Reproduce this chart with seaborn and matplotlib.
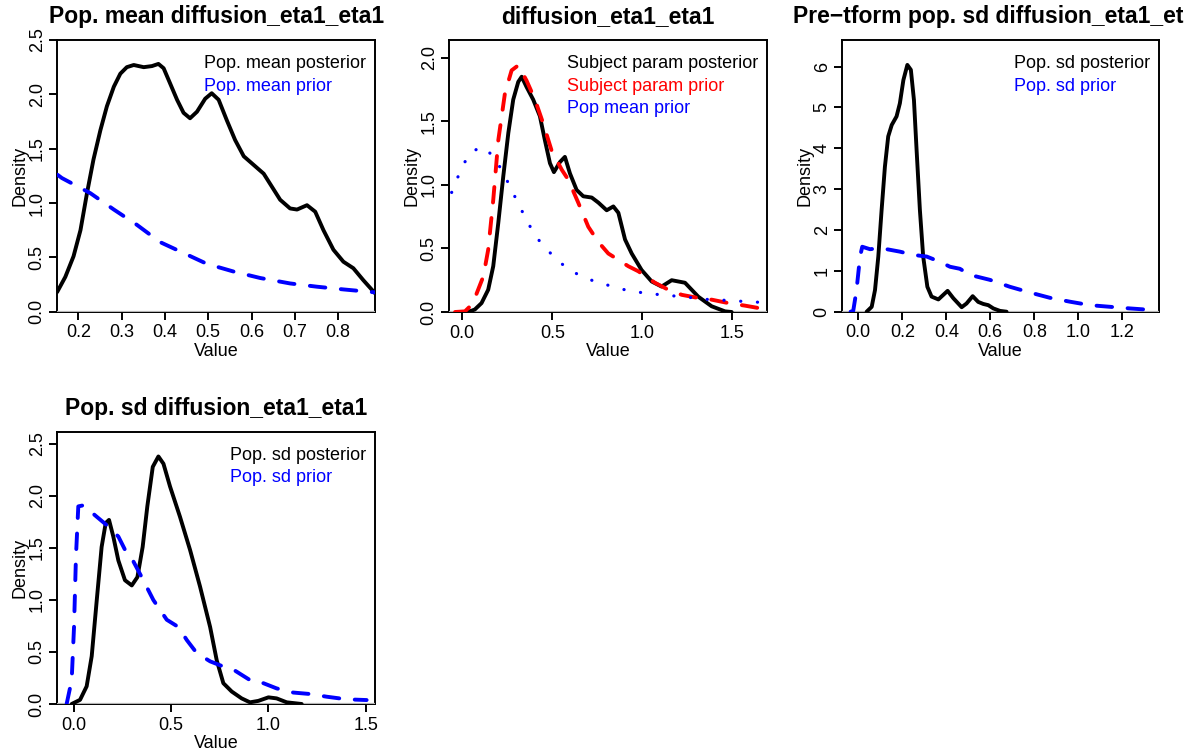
import matplotlib
matplotlib.use("Agg")
import matplotlib.pyplot as plt
import seaborn as sns
from matplotlib.lines import Line2D
from matplotlib.transforms import Bbox, TransformedBbox

# ---- Pop. mean diffusion_eta1_eta1 ----
pm_post_x = [0.151, 0.170, 0.189, 0.205, 0.220, 0.235, 0.251, 0.266, 0.282, 0.297,
             0.312, 0.328, 0.351, 0.370, 0.385, 0.397, 0.412, 0.428, 0.443, 0.458,
             0.474, 0.493, 0.508, 0.524, 0.543, 0.562, 0.582, 0.605, 0.628, 0.647,
             0.666, 0.689, 0.705, 0.728, 0.747, 0.766, 0.789, 0.812, 0.835, 0.858,
             0.885]
pm_post_y = [0.18, 0.32, 0.51, 0.75, 1.09, 1.40, 1.67, 1.89, 2.07, 2.19,
             2.25, 2.27, 2.25, 2.26, 2.28, 2.24, 2.10, 1.95, 1.83, 1.78,
             1.84, 1.96, 2.01, 1.95, 1.76, 1.58, 1.43, 1.35, 1.27, 1.15,
             1.03, 0.95, 0.94, 0.98, 0.92, 0.75, 0.57, 0.46, 0.40, 0.29,
             0.17]
pm_prior_x = [0.152, 0.162, 0.228, 0.282, 0.335, 0.389, 0.443, 0.497, 0.558, 0.620,
              0.689, 0.751, 0.812, 0.885]
pm_prior_y = [1.26, 1.23, 1.09, 0.94, 0.80, 0.64, 0.54, 0.44, 0.37, 0.31,
              0.26, 0.23, 0.205, 0.178]

# ---- diffusion_eta1_eta1 (subject level) ----
sp_post_x = [0.024, 0.052, 0.070, 0.107, 0.144, 0.172, 0.200, 0.228, 0.256, 0.283,
             0.311, 0.330, 0.357, 0.394, 0.431, 0.459, 0.487, 0.509, 0.543, 0.570,
             0.598, 0.635, 0.672, 0.719, 0.756, 0.802, 0.839, 0.867, 0.904, 0.941,
             0.996, 1.052, 1.107, 1.163, 1.237, 1.311, 1.385, 1.459, 1.496]
sp_post_y = [0.00, 0.01, 0.02, 0.07, 0.175, 0.36, 0.70, 1.07, 1.41, 1.67,
             1.81, 1.85, 1.77, 1.67, 1.54, 1.35, 1.17, 1.10, 1.18, 1.22,
             1.09, 0.96, 0.91, 0.90, 0.86, 0.80, 0.83, 0.78, 0.57, 0.46,
             0.33, 0.24, 0.20, 0.25, 0.23, 0.12, 0.045, 0.005, 0.0]
sp_prior_x = [-0.040, 0.015, 0.040, 0.070, 0.117, 0.144, 0.172, 0.200, 0.237, 0.274,
              0.311, 0.357, 0.404, 0.450, 0.496, 0.552, 0.589, 0.644, 0.700, 0.756,
              0.811, 0.867, 0.922, 0.978, 1.070, 1.144, 1.219, 1.293, 1.385, 1.478,
              1.570, 1.690]
sp_prior_y = [0.00, 0.005, 0.04, 0.11, 0.28, 0.49, 0.88, 1.35, 1.72, 1.90,
              1.94, 1.82, 1.67, 1.48, 1.27, 1.12, 1.04, 0.86, 0.67, 0.55,
              0.46, 0.41, 0.36, 0.32, 0.23, 0.175, 0.135, 0.115, 0.097, 0.07,
              0.05, 0.02]
sp_popmean_x = [-0.059, -0.031, 0.000, 0.037, 0.102, 0.163, 0.209, 0.243, 0.278, 0.311,
                0.348, 0.385, 0.428, 0.478, 0.533, 0.598, 0.663, 0.737, 0.811, 0.885,
                0.959, 1.039, 1.117, 1.200, 1.274, 1.348, 1.431, 1.506, 1.589, 1.663,
                1.694]
sp_popmean_y = [0.94, 1.04, 1.14, 1.24, 1.30, 1.24, 1.14, 1.05, 0.95, 0.85,
                0.75, 0.65, 0.56, 0.48, 0.40, 0.33, 0.28, 0.24, 0.21, 0.18,
                0.16, 0.144, 0.134, 0.123, 0.113, 0.10, 0.094, 0.089, 0.08, 0.076,
                0.075]

# ---- Pre-tform pop. sd diffusion_eta1_eta1 ----
pt_post_x = [0.038, 0.061, 0.076, 0.091, 0.106, 0.121, 0.136, 0.152, 0.174, 0.189,
             0.205, 0.223, 0.239, 0.253, 0.265, 0.280, 0.295, 0.314, 0.333, 0.364,
             0.386, 0.406, 0.432, 0.470, 0.492, 0.520, 0.545, 0.568, 0.591, 0.614,
             0.644, 0.674]
pt_post_y = [0.00, 0.12, 0.53, 1.35, 2.49, 3.55, 4.29, 4.57, 4.78, 5.10,
             5.67, 6.04, 5.92, 5.18, 3.96, 2.49, 1.35, 0.61, 0.37, 0.30,
             0.41, 0.51, 0.33, 0.11, 0.20, 0.38, 0.24, 0.19, 0.16, 0.08,
             0.02, 0.0]
pt_prior_x = [-0.035, -0.023, -0.008, 0.008, 0.018, 0.053, 0.091, 0.129, 0.189, 0.250,
              0.311, 0.371, 0.417, 0.462, 0.508, 0.598, 0.689, 0.780, 0.871, 0.962,
              1.053, 1.144, 1.235, 1.341]
pt_prior_y = [0.00, 0.02, 0.53, 1.35, 1.59, 1.53, 1.55, 1.53, 1.47, 1.39,
              1.35, 1.22, 1.10, 1.05, 0.90, 0.78, 0.61, 0.47, 0.34, 0.245,
              0.16, 0.12, 0.08, 0.04]

# ---- Pop. sd diffusion_eta1_eta1 ----
ps_post_x = [-0.012, 0.031, 0.065, 0.091, 0.117, 0.142, 0.163, 0.180, 0.202, 0.228,
             0.262, 0.297, 0.326, 0.353, 0.377, 0.405, 0.434, 0.460, 0.494, 0.545,
             0.597, 0.648, 0.700, 0.734, 0.768, 0.811, 0.862, 0.905, 0.948, 1.000,
             1.042, 1.094, 1.171]
ps_post_y = [0.00, 0.04, 0.17, 0.46, 1.00, 1.51, 1.74, 1.77, 1.61, 1.38,
             1.19, 1.14, 1.22, 1.51, 1.90, 2.28, 2.38, 2.31, 2.09, 1.80,
             1.48, 1.13, 0.74, 0.42, 0.20, 0.12, 0.054, 0.016, 0.03, 0.064,
             0.054, 0.016, 0.0]
ps_prior_x = [-0.038, -0.012, 0.000, 0.010, 0.022, 0.048, 0.117, 0.168, 0.228, 0.271,
              0.297, 0.348, 0.408, 0.477, 0.537, 0.580, 0.631, 0.700, 0.768, 0.820,
              0.854, 0.922, 0.974, 1.042, 1.128, 1.214, 1.300, 1.402, 1.505]
ps_prior_y = [0.00, 0.23, 0.74, 1.42, 1.90, 1.91, 1.80, 1.72, 1.61, 1.45,
              1.40, 1.22, 1.00, 0.81, 0.74, 0.615, 0.49, 0.41, 0.36, 0.33,
              0.29, 0.21, 0.20, 0.15, 0.11, 0.096, 0.07, 0.045, 0.038]

# ---- axis ticks / labels ----
p1_xticks = [0.2, 0.3, 0.4, 0.5, 0.6, 0.7, 0.8]
p1_xlabels = ["0.2", "0.3", "0.4", "0.5", "0.6", "0.7", "0.8"]
p1_yticks = [0.0, 0.5, 1.0, 1.5, 2.0, 2.5]
p1_ylabels = ["0.0", "0.5", "1.0", "1.5", "2.0", "2.5"]
p2_xticks = [0.0, 0.5, 1.0, 1.5]
p2_xlabels = ["0.0", "0.5", "1.0", "1.5"]
p2_yticks = [0.0, 0.5, 1.0, 1.5, 2.0]
p2_ylabels = ["0.0", "0.5", "1.0", "1.5", "2.0"]
p3_xticks = [0.0, 0.2, 0.4, 0.6, 0.8, 1.0, 1.2]
p3_xlabels = ["0.0", "0.2", "0.4", "0.6", "0.8", "1.0", "1.2"]
p3_yticks = [0, 1, 2, 3, 4, 5, 6]
p3_ylabels = ["0", "1", "2", "3", "4", "5", "6"]
p4_xticks = [0.0, 0.5, 1.0, 1.5]
p4_xlabels = ["0.0", "0.5", "1.0", "1.5"]
p4_yticks = [0.0, 0.5, 1.0, 1.5, 2.0, 2.5]
p4_ylabels = ["0.0", "0.5", "1.0", "1.5", "2.0", "2.5"]

titles = ["Pop. mean diffusion_eta1_eta1", "diffusion_eta1_eta1",
          "Pre\u2212tform pop. sd diffusion_eta1_eta1", "Pop. sd diffusion_eta1_eta1"]

sns.set_theme(style="white")
plt.rcParams["font.family"] = ["Liberation Sans", "DejaVu Sans"]

W, H = 1195, 753
fig = plt.figure(figsize=(W / 100, H / 100), dpi=100)
fig.patch.set_facecolor("white")

LW = 2.8
DASH = (0, (4, 4))
DOT = (0, (0.05, 5.2))


def px_rect(left, top, right, bottom):
    return [left / W, (H - bottom) / H, (right - left) / W, (bottom - top) / H]


def draw_curve(ax, xs, ys, color, style):
    sns.lineplot(x=xs, y=ys, ax=ax, color=color, sort=False, estimator=None,
                 legend=False, linewidth=LW if style != "dot" else 2.3)
    line = ax.lines[-1]
    line.set_zorder(3)
    line.set_solid_capstyle("round")
    line.set_dash_capstyle("round")
    line.set_solid_joinstyle("round")
    line.set_dash_joinstyle("round")
    if style == "dash":
        line.set_linestyle(DASH)
    elif style == "dot":
        line.set_linestyle(DOT)


def panel(rect, col_span, curves, xlim, ylim, xticks, xlabels, yticks, ylabels,
          title, legend_items):
    ax = fig.add_axes(px_rect(*rect))
    ax.set_facecolor("white")
    for xs, ys, color, style in curves:
        draw_curve(ax, xs, ys, color, style)
    ax.set_xlim(*xlim)
    ax.set_ylim(*ylim)
    ax.set_xticks(xticks, xlabels)
    ax.set_yticks(yticks, ylabels)
    for s in ax.spines.values():
        s.set_visible(True)
        s.set_color("black")
        s.set_linewidth(1.4)
    ax.tick_params(axis="both", which="major", direction="out", length=5.8,
                   width=1.4, color="black", labelsize=13, labelcolor="black",
                   bottom=True, left=True)
    ax.tick_params(axis="x", pad=3.2)
    ax.tick_params(axis="y", pad=2.6, labelrotation=90)
    for lab in ax.get_yticklabels():
        lab.set_va("center")
    ax.axhline(0, color="#b4b4b4", lw=1.6, zorder=2.8)
    ax.grid(False)

    ax.set_xlabel("Value", fontsize=13, color="black")
    ax.set_ylabel("Density", fontsize=13, color="black")
    wpx = rect[2] - rect[0]
    hpx = rect[3] - rect[1]
    ax.xaxis.set_label_coords(0.5, -31.5 / hpx)
    ax.yaxis.set_label_coords(-28.5 / wpx, 0.5)

    t = ax.set_title(title, fontsize=16.5, fontweight="bold", pad=12, color="black")
    clip = TransformedBbox(Bbox([[col_span[0] / W, 0], [col_span[1] / W, 1]]),
                           fig.transFigure)
    t.set_clip_box(clip)
    t.set_clip_on(True)

    handles = [Line2D([], [], linestyle="none") for _ in legend_items]
    ax.legend(handles, [lab for lab, _ in legend_items],
              labelcolor=[c for _, c in legend_items],
              loc="upper right", bbox_to_anchor=(1 - 9 / wpx, 1 - 15.5 / hpx),
              bbox_transform=ax.transAxes, frameon=False, handlelength=0,
              handletextpad=0, borderpad=0, borderaxespad=0, labelspacing=0.28,
              fontsize=13)
    return ax


panel((57.3, 40, 375, 311.7), (0, 396),
      [(pm_post_x, pm_post_y, "black", "solid"),
       (pm_prior_x, pm_prior_y, "#0000FF", "dash")],
      (0.1515, 0.885), (0, 2.5), p1_xticks, p1_xlabels, p1_yticks, p1_ylabels,
      titles[0], [("Pop. mean posterior", "black"), ("Pop. mean prior", "#0000FF")])

panel((449.3, 40, 767.3, 312), (396, 792),
      [(sp_post_x, sp_post_y, "black", "solid"),
       (sp_prior_x, sp_prior_y, "#FF0000", "dash"),
       (sp_popmean_x, sp_popmean_y, "#0000FF", "dot")],
      (-0.072, 1.694), (0, 2.139), p2_xticks, p2_xlabels, p2_yticks, p2_ylabels,
      titles[1], [("Subject param posterior", "black"),
                  ("Subject param prior", "#FF0000"),
                  ("Pop mean prior", "#0000FF")])

panel((842.3, 40, 1159, 311.7), (792, 1184),
      [(pt_post_x, pt_post_y, "black", "solid"),
       (pt_prior_x, pt_prior_y, "#0000FF", "dash")],
      (-0.0727, 1.367), (0, 6.65), p3_xticks, p3_xlabels, p3_yticks, p3_ylabels,
      titles[2], [("Pop. sd posterior", "black"), ("Pop. sd prior", "#0000FF")])

panel((57.3, 431.7, 375, 704), (0, 396),
      [(ps_post_x, ps_post_y, "black", "solid"),
       (ps_prior_x, ps_prior_y, "#0000FF", "dash")],
      (-0.086, 1.548), (0, 2.618), p4_xticks, p4_xlabels, p4_yticks, p4_ylabels,
      titles[3], [("Pop. sd posterior", "black"), ("Pop. sd prior", "#0000FF")])

fig.savefig("out.png", dpi=100, facecolor="white")
